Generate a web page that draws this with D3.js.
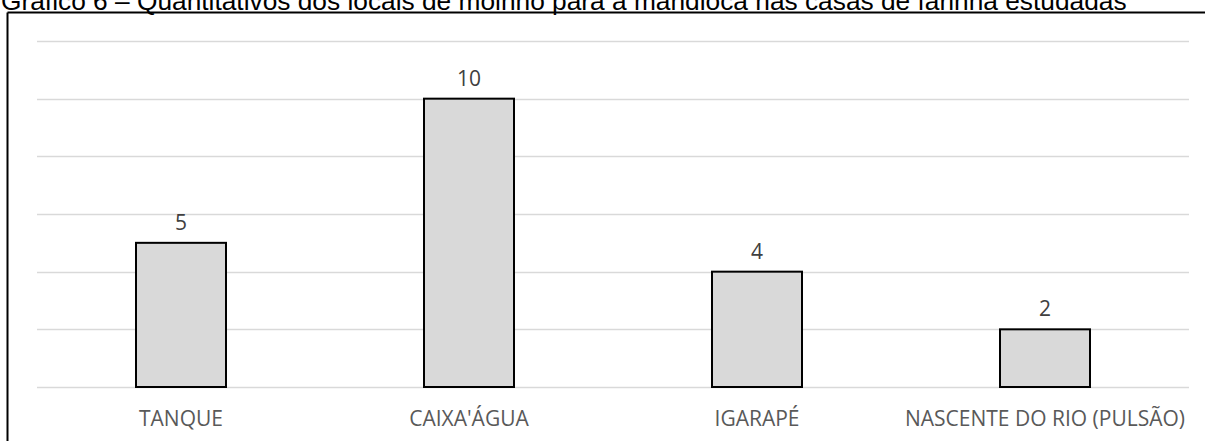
<!DOCTYPE html>
<html><head><meta charset="utf-8">
<script src="https://cdn.jsdelivr.net/npm/d3@7"></script>
<style>html,body{margin:0;padding:0;background:#fff;overflow:hidden}</style>
</head><body>
<svg id="c" width="1205" height="441"></svg>
<script>
const titleText = "Gráfico 6 – Quantitativos dos locais de moinho para a mandioca nas casas de farinha estudadas";
const categories = ["TANQUE", "CAIXA'ÁGUA", "IGARAPÉ", "NASCENTE DO RIO (PULSÃO)"];
const values = [5, 10, 4, 2];
const yTicks = [0, 2, 4, 6, 8, 10, 12];

const svg = d3.select("#c");
const x = d3.scaleBand().domain(categories).range([37, 1189]).paddingInner(0.6875).paddingOuter(0.34375);
const y = d3.scaleLinear().domain([0, 12]).range([387, 41]);

// title (clipped at top, as in the reference)
const t = svg.append("text").attr("x", 1).attr("y", 9.5)
  .attr("font-family", "Liberation Sans, Arial, sans-serif").attr("font-size", 24)
  .attr("fill", "#000").text(titleText);
const w = t.node().getComputedTextLength();
t.attr("font-size", 24 * 1126 / w);

// frame
svg.append("line").attr("x1", 7.5).attr("x2", 1205).attr("y1", 12.5).attr("y2", 12.5).attr("stroke", "#000").attr("stroke-width", 2);
svg.append("line").attr("x1", 7.5).attr("x2", 7.5).attr("y1", 12.5).attr("y2", 441).attr("stroke", "#000").attr("stroke-width", 2);

// gridlines
svg.append("g").selectAll("line").data(yTicks).join("line")
  .attr("x1", 37).attr("x2", 1189)
  .attr("y1", d => Math.round(y(d)) + 0.5).attr("y2", d => Math.round(y(d)) + 0.5)
  .attr("stroke", "#d9d9d9").attr("stroke-width", 1.5);

// bars
svg.append("g").selectAll("rect").data(values).join("rect")
  .attr("x", (d, i) => x(categories[i]))
  .attr("width", x.bandwidth())
  .attr("y", d => y(d))
  .attr("height", d => y(0) - y(d))
  .attr("fill", "#d9d9d9").attr("stroke", "#000").attr("stroke-width", 2);

// value labels
svg.append("g").selectAll("text").data(values).join("text")
  .attr("x", (d, i) => x(categories[i]) + x.bandwidth() / 2)
  .attr("y", d => y(d) - 13)
  .attr("text-anchor", "middle")
  .attr("font-family", "Open Sans, sans-serif").attr("font-size", 21)
  .attr("fill", "#404040").text(d => d);

// category axis labels
const xAxis = d3.axisBottom(x).tickSize(0).tickPadding(0);
const ga = svg.append("g").attr("transform", "translate(0,426)").call(xAxis);
ga.select(".domain").remove();
ga.selectAll("text").attr("y", 0).attr("dy", 0)
  .attr("font-family", "Open Sans, sans-serif").attr("font-size", 21).attr("fill", "#595959");
</script>
</body></html>
